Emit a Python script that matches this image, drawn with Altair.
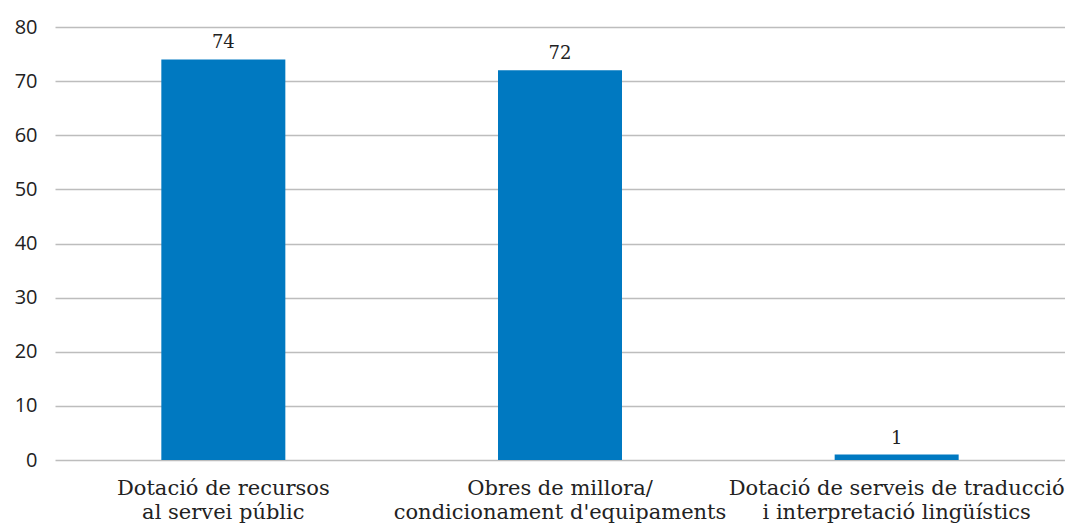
import altair as alt
import pandas as pd

categories = [
    "Dotació de recursos|al servei públic",
    "Obres de millora/|condicionament d'equipaments",
    "Dotació de serveis de traducció|i interpretació lingüístics",
]
values = [74, 72, 1]

df = pd.DataFrame({"cat": categories, "val": values})

x = alt.X("cat:N", sort=categories, title=None,
          scale=alt.Scale(paddingInner=0, paddingOuter=0),
          axis=alt.Axis(labelExpr="split(datum.label, '|')", labelAngle=0,
                        labelFont="DejaVu Serif", labelFontSize=21, labelColor="#222222",
                        labelPadding=17, labelLineHeight=24, domain=False, ticks=False,
                        grid=False, labelLimit=0, labelBaseline="top"))
y = alt.Y("val:Q", title=None,
          scale=alt.Scale(domain=[0, 80], nice=False),
          axis=alt.Axis(values=[0, 10, 20, 30, 40, 50, 60, 70, 80],
                        labelFont="Open Sans", labelFontSize=20, labelColor="#222222",
                        labelPadding=18, domain=False, ticks=False,
                        grid=True, gridColor="#bdbdbd", gridWidth=1.3))

base = alt.Chart(df).encode(x=x, y=y)
bars = base.mark_bar(color="#0079C1", size=124)
labels = base.mark_text(dy=-7, baseline="bottom", font="DejaVu Serif",
                        fontSize=18, color="#222222").encode(text="val:Q")

chart = (bars + labels).properties(
    width=1010, height=433,
    autosize=alt.AutoSizeParams(type="none"),
    padding={"left": 47, "top": 19, "right": 0, "bottom": 63},
).configure_view(stroke=None)

chart.save("out.html", embed_options={"renderer": "svg", "actions": False})
